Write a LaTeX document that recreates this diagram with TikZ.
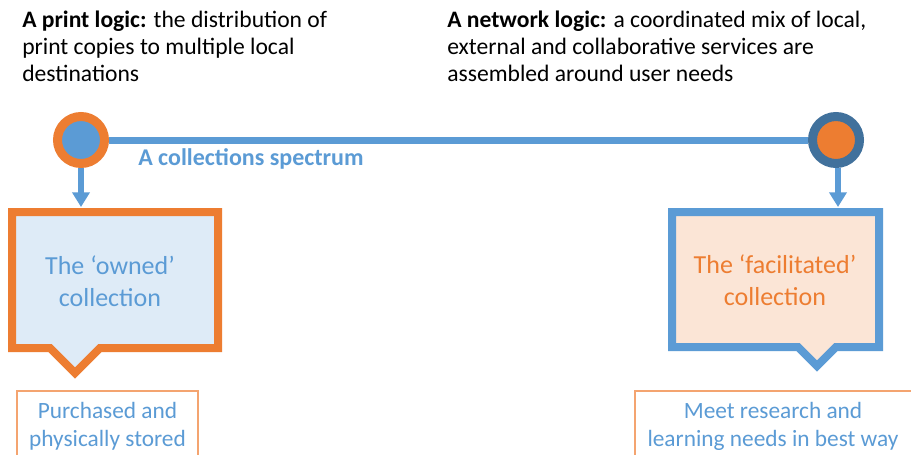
\documentclass[tikz,border=0pt]{standalone}
\usepackage{fontspec}
\setmainfont{Carlito}
\usetikzlibrary{arrows.meta}
\definecolor{cblue}{HTML}{5B9BD5}
\definecolor{corange}{HTML}{ED7D31}
\definecolor{cdarkblue}{HTML}{41719C}
\definecolor{clightblue}{HTML}{DEEBF7}
\definecolor{clightorange}{HTML}{FBE5D6}
\definecolor{cthinorange}{HTML}{F4A470}
\tikzset{
  toptext/.style={anchor=north west, inner sep=0pt, align=left, font=\fontsize{17.7pt}{20.3pt}\selectfont, text=black},
  ring/.style={circle, inner sep=0pt, minimum size=35.25pt, line width=6.75pt},
  spectrum/.style={draw=cblue, line width=5.25pt},
  downarrow/.style={draw=cblue, line width=4.5pt, -{Triangle[width=12.75pt,length=11pt]}},
  callout/.style={line width=6pt, miter limit=10, line join=miter},
  boxtext/.style={align=center, inner sep=0pt, font=\fontsize{19.5pt}{24pt}\selectfont},
  notebox/.style={draw=cthinorange, line width=1pt},
  notetext/.style={align=center, inner sep=0pt, text=cblue, font=\fontsize{17.5pt}{21pt}\selectfont},
}
\begin{document}
\begin{tikzpicture}[x=0.75pt,y=-0.75pt]
\clip (0,0) rectangle (911,454);
\fill[white] (0,0) rectangle (911,454);

% header texts
\node[toptext] (printlogic) at (22,11) {\textbf{A print logic:} the distribution of\\print copies to multiple local\\destinations};
\node[toptext] (netlogic) at (447,11) {\textbf{A network logic:} a coordinated mix of local,\\external and collaborative services are\\assembled around user needs};

% callout boxes
\draw[callout, draw=corange, fill=clightblue] (12,212) -- (218,212) -- (218,348) -- (100,348) -- (75,373) -- (50,348) -- (12,348) -- cycle;
\draw[callout, draw=cblue, fill=clightorange] (672,212) -- (879,212) -- (879,347) -- (836,347) -- (817,366) -- (798,347) -- (672,347) -- cycle;
\node[boxtext, text=cblue] (owned) at (110,281) {The ‘owned’\\collection};
\node[boxtext, text=corange] (facil) at (775,280) {The ‘facilitated’\\collection};

% spectrum
\node[ring, draw=corange, fill=cblue] (c1) at (81,140) {};
\node[ring, draw=cdarkblue, fill=corange] (c2) at (836,140) {};
\draw[spectrum] (c1) -- (c2);
\node[anchor=west, inner sep=0pt, text=cblue, font=\fontsize{18pt}{21pt}\selectfont\bfseries] (speclabel) at (138,159) {A collections spectrum};

\coordinate (t1) at (81,207);
\coordinate (t2) at (838,207);
\draw[downarrow] (c1.south) -- (t1);
\draw[downarrow] (c2.south -| t2) -- (t2);

% bottom notes
\draw[notebox] (17,391) rectangle (198,470);
\draw[notebox] (635,391) rectangle (918,470);
\node[notetext] (purch) at (107.5,426) {Purchased and\\physically stored};
\node[notetext] (meet) at (773,426) {Meet research and\\learning needs in best way};
\end{tikzpicture}
\end{document}
